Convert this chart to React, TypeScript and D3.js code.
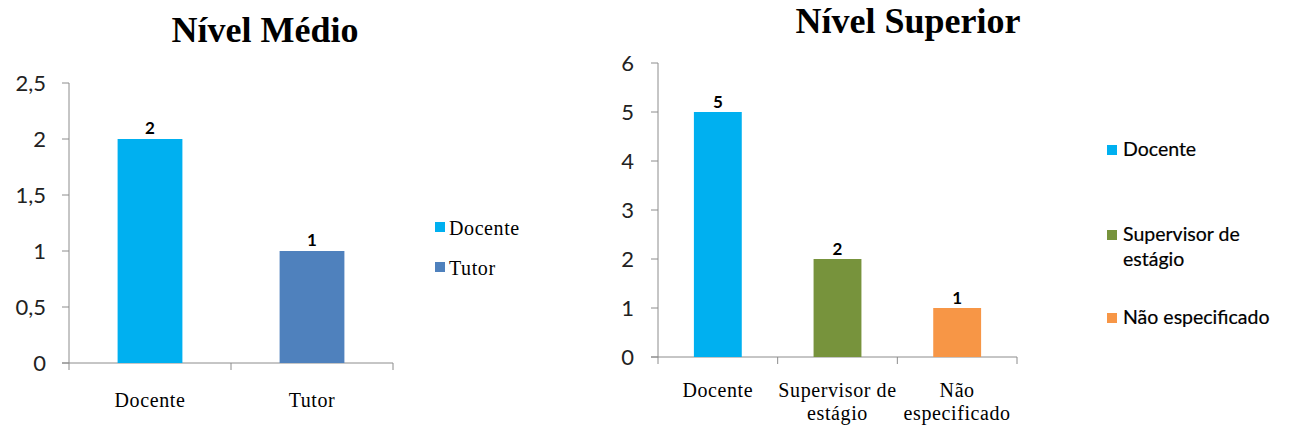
import React from "react";
import * as d3 from "d3";

const medioCategories = ["Docente", "Tutor"];
const medioValues = [2, 1];
const medioColors = ["#00B0F0", "#4F81BD"];
const medioTicks = [0, 0.5, 1, 1.5, 2, 2.5];

const superiorCategories = ["Docente", "Supervisor de estágio", "Não especificado"];
const superiorCatLines = [["Docente"], ["Supervisor de", "estágio"], ["Não", "especificado"]];
const superiorLegendLines = [["Docente"], ["Supervisor de", "estágio"], ["Não especificado"]];
const superiorValues = [5, 2, 1];
const superiorColors = ["#00B0F0", "#77933C", "#F79646"];
const superiorTicks = [0, 1, 2, 3, 4, 5, 6];

const SANS = "Lato, 'Open Sans', sans-serif";
const SERIF = "'Liberation Serif', 'Times New Roman', serif";
const AXIS = "#8c8c8c";

function fmt(v: number) {
  return String(v).replace(".", ",");
}

export default function App() {
  const lx = d3.scaleBand().domain(medioCategories).range([69, 393]).paddingInner(0.6).paddingOuter(0.3);
  const ly = d3.scaleLinear().domain([0, 2.5]).range([363, 83]);
  const rx = d3.scaleBand().domain(superiorCategories).range([658, 1017]).paddingInner(0.6).paddingOuter(0.3);
  const ry = d3.scaleLinear().domain([0, 6]).range([357, 63]);

  const lStep = (393 - 69) / medioCategories.length;
  const rStep = (1017 - 658) / superiorCategories.length;

  return (
    <svg width={1289} height={432} style={{ position: "absolute", left: 0, top: 0, background: "#fff" }}>
      <text x={265} y={42} textAnchor="middle" fontFamily={SERIF} fontWeight="bold" fontSize={36} fill="#000">Nível Médio</text>
      <line x1={69} x2={69} y1={ly(2.5)} y2={ly(0)} stroke={AXIS} strokeWidth={1} />
      <line x1={62} x2={393} y1={ly(0)} y2={ly(0)} stroke={AXIS} strokeWidth={1} />
      {medioTicks.map((t) => (
        <g key={t}>
          <line x1={62} x2={69} y1={ly(t)} y2={ly(t)} stroke={AXIS} />
          <text x={46} y={ly(t)} dy="0.36em" textAnchor="end" fontFamily={SANS} fontSize={22} fill="#222">{fmt(t)}</text>
        </g>
      ))}
      {[0, 1, 2].map((i) => (
        <line key={i} x1={69 + i * lStep} x2={69 + i * lStep} y1={ly(0)} y2={ly(0) + 7} stroke={AXIS} />
      ))}
      {medioCategories.map((c, i) => (
        <g key={c}>
          <rect x={lx(c)!} y={ly(medioValues[i])} width={lx.bandwidth()} height={ly(0) - ly(medioValues[i])} fill={medioColors[i]} />
          <text x={lx(c)! + lx.bandwidth() / 2} y={ly(medioValues[i]) - 5} textAnchor="middle" fontFamily={SANS} fontWeight="bold" fontSize={17} fill="#000">{medioValues[i]}</text>
          <text x={lx(c)! + lx.bandwidth() / 2} y={407} textAnchor="middle" fontFamily={SERIF} fontSize={20} letterSpacing={0.6} fill="#000">{c}</text>
        </g>
      ))}
      {medioCategories.map((c, i) => (
        <g key={c}>
          <rect x={435} y={222 + i * 40} width={10} height={10} fill={medioColors[i]} />
          <text x={449} y={235 + i * 40} fontFamily={SERIF} fontSize={20} letterSpacing={0.6} fill="#000">{c}</text>
        </g>
      ))}

      <text x={908} y={33} textAnchor="middle" fontFamily={SERIF} fontWeight="bold" fontSize={36} fill="#000">Nível Superior</text>
      <line x1={658} x2={658} y1={ry(6)} y2={ry(0)} stroke={AXIS} />
      <line x1={651} x2={1017} y1={ry(0)} y2={ry(0)} stroke={AXIS} />
      {superiorTicks.map((t) => (
        <g key={t}>
          <line x1={651} x2={658} y1={ry(t)} y2={ry(t)} stroke={AXIS} />
          <text x={634} y={ry(t)} dy="0.36em" textAnchor="end" fontFamily={SANS} fontSize={22} fill="#222">{fmt(t)}</text>
        </g>
      ))}
      {[0, 1, 2, 3].map((i) => (
        <line key={i} x1={658 + i * rStep} x2={658 + i * rStep} y1={ry(0)} y2={ry(0) + 7} stroke={AXIS} />
      ))}
      {superiorCategories.map((c, i) => (
        <g key={c}>
          <rect x={rx(c)!} y={ry(superiorValues[i])} width={rx.bandwidth()} height={ry(0) - ry(superiorValues[i])} fill={superiorColors[i]} />
          <text x={rx(c)! + rx.bandwidth() / 2} y={ry(superiorValues[i]) - 4} textAnchor="middle" fontFamily={SANS} fontWeight="bold" fontSize={17} fill="#000">{superiorValues[i]}</text>
          {superiorCatLines[i].map((l, j) => (
            <text key={j} x={rx(c)! + rx.bandwidth() / 2} y={397 + j * 23} textAnchor="middle" fontFamily={SERIF} fontSize={20} letterSpacing={0.6} fill="#000">{l}</text>
          ))}
        </g>
      ))}
      {superiorCategories.map((c, i) => {
        const sqY = [145, 230, 313][i];
        return (
          <g key={c}>
            <rect x={1107} y={sqY} width={10} height={10} fill={superiorColors[i]} />
            {superiorLegendLines[i].map((l, j) => (
              <text key={j} x={1123} y={sqY + 11 + j * 25} fontFamily={SANS} fontSize={19.5} fill="#000" stroke="#000" strokeWidth={0.2}>{l}</text>
            ))}
          </g>
        );
      })}
    </svg>
  );
}
